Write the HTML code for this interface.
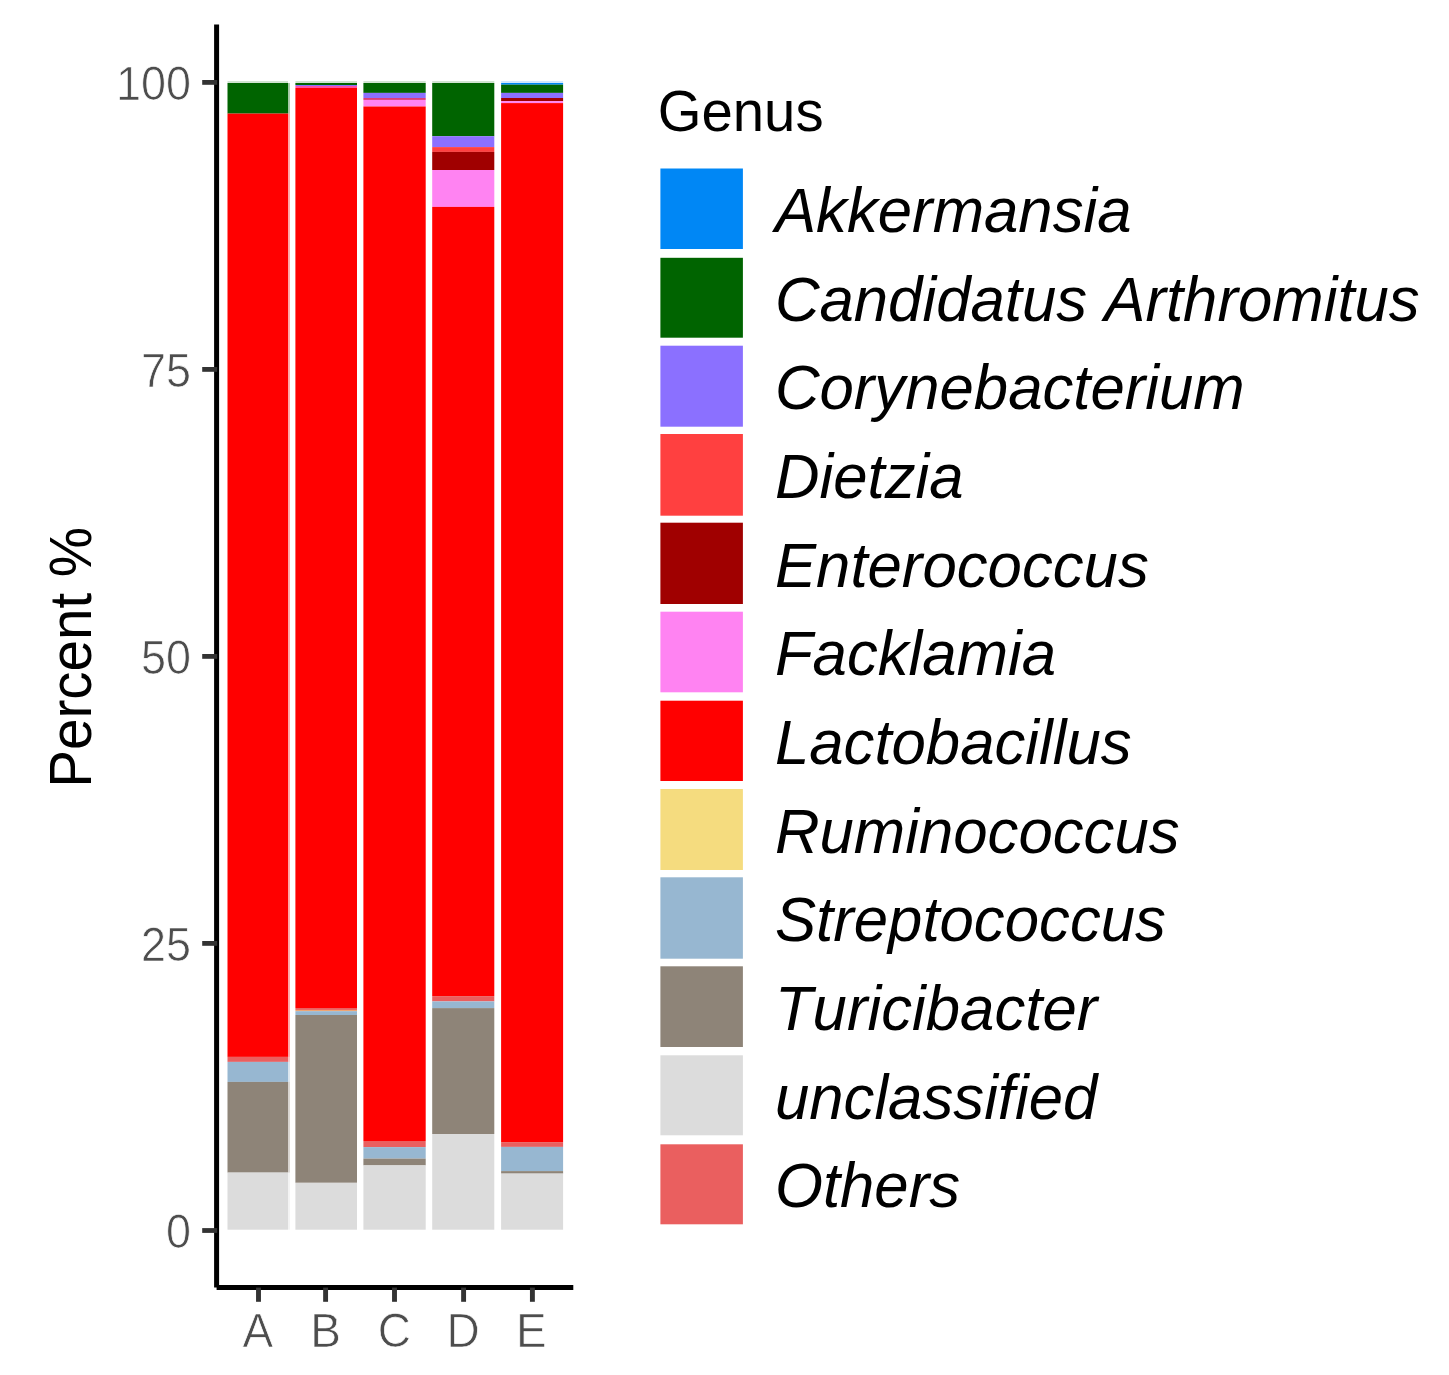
<!DOCTYPE html>
<html><head><meta charset="utf-8"><title>Genus composition</title>
<style>
html,body{margin:0;padding:0;background:#fff;}
body{width:1449px;height:1375px;overflow:hidden;}
svg{display:block;}
text{font-family:"Liberation Sans",Arial,sans-serif;font-kerning:none;font-variant-ligatures:none;}
.tick{fill:#4D4D4D;font-size:46px;stroke:#fff;stroke-width:0.7px;}
.ttl{fill:#000;font-size:57px;}
.lab{fill:#000;font-size:61.6px;font-style:italic;}
</style></head><body>
<svg width="1449" height="1375" viewBox="0 0 1449 1375">
<rect width="1449" height="1375" fill="#fff"/>

<g>
<rect x="227.50" y="81" width="60.50" height="2.2" fill="#006400" opacity="0.18"/>
<rect x="227.50" y="83.00" width="60.50" height="30.60" fill="#006400"/>
<rect x="288.00" y="83.00" width="1.9" height="30.60" fill="#006400" opacity="0.35"/>
<rect x="227.50" y="113.60" width="60.50" height="943.30" fill="#FF0000"/>
<rect x="288.00" y="113.60" width="1.9" height="943.30" fill="#FF0000" opacity="0.35"/>
<rect x="227.50" y="1056.90" width="60.50" height="5.00" fill="#EA5F5F"/>
<rect x="288.00" y="1056.90" width="1.9" height="5.00" fill="#EA5F5F" opacity="0.35"/>
<rect x="227.50" y="1061.90" width="60.50" height="20.00" fill="#97B7D1"/>
<rect x="288.00" y="1061.90" width="1.9" height="20.00" fill="#97B7D1" opacity="0.35"/>
<rect x="227.50" y="1081.90" width="60.50" height="90.70" fill="#8E8478"/>
<rect x="288.00" y="1081.90" width="1.9" height="90.70" fill="#8E8478" opacity="0.35"/>
<rect x="227.50" y="1172.60" width="60.50" height="57.10" fill="#DCDCDC"/>
<rect x="288.00" y="1172.60" width="1.9" height="57.10" fill="#DCDCDC" opacity="0.35"/>
</g>
<g>
<rect x="295.40" y="81" width="61.60" height="2.2" fill="#006400" opacity="0.18"/>
<rect x="295.40" y="83.00" width="61.60" height="2.00" fill="#006400"/>
<rect x="295.40" y="85.00" width="61.60" height="1.00" fill="#8B70FF"/>
<rect x="295.40" y="86.00" width="61.60" height="2.00" fill="#FF50A0"/>
<rect x="295.40" y="88.00" width="61.60" height="920.00" fill="#FF0000"/>
<rect x="295.40" y="1008.00" width="61.60" height="1.95" fill="#EA5F5F"/>
<rect x="295.40" y="1009.95" width="61.60" height="1.20" fill="#F0A573"/>
<rect x="295.40" y="1011.15" width="61.60" height="3.85" fill="#97B7D1"/>
<rect x="295.40" y="1015.00" width="61.60" height="167.80" fill="#8E8478"/>
<rect x="295.40" y="1182.80" width="61.60" height="46.90" fill="#DCDCDC"/>
</g>
<g>
<rect x="363.40" y="81" width="62.30" height="2.2" fill="#006400" opacity="0.18"/>
<rect x="363.40" y="83.00" width="62.30" height="9.90" fill="#006400"/>
<rect x="363.40" y="92.90" width="62.30" height="5.10" fill="#8B70FF"/>
<rect x="363.40" y="98.00" width="62.30" height="1.95" fill="#DC3F78"/>
<rect x="363.40" y="99.95" width="62.30" height="6.55" fill="#FF83F2"/>
<rect x="363.40" y="106.50" width="62.30" height="1034.50" fill="#FF0000"/>
<rect x="363.40" y="1141.00" width="62.30" height="6.10" fill="#EA5F5F"/>
<rect x="363.40" y="1147.10" width="62.30" height="11.50" fill="#97B7D1"/>
<rect x="363.40" y="1158.60" width="62.30" height="6.80" fill="#8E8478"/>
<rect x="363.40" y="1165.40" width="62.30" height="64.30" fill="#DCDCDC"/>
</g>
<g>
<rect x="432.20" y="81" width="62.10" height="2.2" fill="#006400" opacity="0.18"/>
<rect x="432.20" y="83.00" width="62.10" height="53.20" fill="#006400"/>
<rect x="432.20" y="136.20" width="62.10" height="10.90" fill="#8B70FF"/>
<rect x="432.20" y="147.10" width="62.10" height="4.80" fill="#FF4040"/>
<rect x="432.20" y="151.90" width="62.10" height="18.10" fill="#A00000"/>
<rect x="432.20" y="170.00" width="62.10" height="36.90" fill="#FF83F2"/>
<rect x="432.20" y="206.90" width="62.10" height="789.20" fill="#FF0000"/>
<rect x="432.20" y="996.10" width="62.10" height="5.30" fill="#EA5F5F"/>
<rect x="432.20" y="1001.40" width="62.10" height="6.70" fill="#97B7D1"/>
<rect x="432.20" y="1008.10" width="62.10" height="125.90" fill="#8E8478"/>
<rect x="432.20" y="1134.00" width="62.10" height="95.70" fill="#DCDCDC"/>
</g>
<g>
<rect x="501.10" y="81" width="62.00" height="2.2" fill="#0087F5" opacity="0.18"/>
<rect x="501.10" y="83.00" width="62.00" height="1.70" fill="#0087F5"/>
<rect x="501.10" y="84.70" width="62.00" height="8.20" fill="#006400"/>
<rect x="501.10" y="92.90" width="62.00" height="5.10" fill="#8B70FF"/>
<rect x="501.10" y="98.00" width="62.00" height="3.10" fill="#A00000"/>
<rect x="501.10" y="101.10" width="62.00" height="2.00" fill="#FF83F2"/>
<rect x="501.10" y="103.10" width="62.00" height="1039.00" fill="#FF0000"/>
<rect x="501.10" y="1142.10" width="62.00" height="4.80" fill="#EA5F5F"/>
<rect x="501.10" y="1146.90" width="62.00" height="24.20" fill="#97B7D1"/>
<rect x="501.10" y="1171.10" width="62.00" height="2.50" fill="#8E8478"/>
<rect x="501.10" y="1173.60" width="62.00" height="56.10" fill="#DCDCDC"/>
</g>
<path d="M216.6 24.6V1287.4M216.6 1287.4H573.3" fill="none" stroke="#000" stroke-width="5" stroke-linecap="butt"/>
<rect x="202.2" y="80.00" width="15" height="4.8" fill="#333"/>
<text class="tick" transform="translate(191.1 99.60) scale(0.978 1.03)" text-anchor="end">100</text>
<rect x="202.2" y="367.00" width="15" height="4.8" fill="#333"/>
<text class="tick" transform="translate(191.1 386.60) scale(0.978 1.03)" text-anchor="end">75</text>
<rect x="202.2" y="654.00" width="15" height="4.8" fill="#333"/>
<text class="tick" transform="translate(191.1 673.60) scale(0.978 1.03)" text-anchor="end">50</text>
<rect x="202.2" y="941.00" width="15" height="4.8" fill="#333"/>
<text class="tick" transform="translate(191.1 960.60) scale(0.978 1.03)" text-anchor="end">25</text>
<rect x="202.2" y="1228.10" width="15" height="4.8" fill="#333"/>
<text class="tick" transform="translate(191.1 1247.70) scale(0.978 1.03)" text-anchor="end">0</text>
<rect x="256.05" y="1287.6" width="4.9" height="14.2" fill="#333"/>
<text class="tick" transform="translate(257.90 1347.4) scale(1 1.045)" text-anchor="middle">A</text>
<rect x="323.15" y="1287.6" width="4.9" height="14.2" fill="#333"/>
<text class="tick" transform="translate(325.70 1347.4) scale(1 1.045)" text-anchor="middle">B</text>
<rect x="392.05" y="1287.6" width="4.9" height="14.2" fill="#333"/>
<text class="tick" transform="translate(394.40 1347.4) scale(1 1.045)" text-anchor="middle">C</text>
<rect x="461.15" y="1287.6" width="4.9" height="14.2" fill="#333"/>
<text class="tick" transform="translate(463.20 1347.4) scale(1 1.045)" text-anchor="middle">D</text>
<rect x="529.95" y="1287.6" width="4.9" height="14.2" fill="#333"/>
<text class="tick" transform="translate(531.40 1347.4) scale(1 1.045)" text-anchor="middle">E</text>
<text class="ttl" transform="translate(91.1 657.3) rotate(-90) scale(0.992 1.03)" text-anchor="middle">Percent %</text>
<text class="ttl" transform="translate(657.8 130.9) scale(0.987 1.015)">Genus</text>
<rect x="660.4" y="168.50" width="82.5" height="80.50" fill="#0087F5"/>
<text class="lab" transform="translate(774.9 232.10) scale(1.002 1.025)">Akkermansia</text>
<rect x="660.4" y="257.80" width="82.5" height="79.90" fill="#006400"/>
<text class="lab" transform="translate(774.9 320.76) scale(1.002 1.025)">Candidatus Arthromitus</text>
<rect x="660.4" y="345.70" width="82.5" height="81.00" fill="#8B70FF"/>
<text class="lab" transform="translate(774.9 409.42) scale(1.002 1.025)">Corynebacterium</text>
<rect x="660.4" y="434.00" width="82.5" height="81.70" fill="#FF4040"/>
<text class="lab" transform="translate(774.9 498.08) scale(1.002 1.025)">Dietzia</text>
<rect x="660.4" y="522.70" width="82.5" height="81.30" fill="#A00000"/>
<text class="lab" transform="translate(774.9 586.74) scale(1.002 1.025)">Enterococcus</text>
<rect x="660.4" y="611.70" width="82.5" height="80.60" fill="#FF83F2"/>
<text class="lab" transform="translate(774.9 675.40) scale(1.002 1.025)">Facklamia</text>
<rect x="660.4" y="700.70" width="82.5" height="80.30" fill="#FF0000"/>
<text class="lab" transform="translate(774.9 764.06) scale(1.002 1.025)">Lactobacillus</text>
<rect x="660.4" y="789.00" width="82.5" height="81.00" fill="#F5DC7F"/>
<text class="lab" transform="translate(774.9 852.72) scale(1.002 1.025)">Ruminococcus</text>
<rect x="660.4" y="877.30" width="82.5" height="81.40" fill="#97B7D1"/>
<text class="lab" transform="translate(774.9 941.38) scale(1.002 1.025)">Streptococcus</text>
<rect x="660.4" y="966.30" width="82.5" height="80.70" fill="#8E8478"/>
<text class="lab" transform="translate(774.9 1030.04) scale(1.002 1.025)">Turicibacter</text>
<rect x="660.4" y="1055.30" width="82.5" height="80.00" fill="#DCDCDC"/>
<text class="lab" transform="translate(774.9 1118.70) scale(1.002 1.025)">unclassified</text>
<rect x="660.4" y="1144.30" width="82.5" height="80.00" fill="#EA5F5F"/>
<text class="lab" transform="translate(774.9 1207.36) scale(1.002 1.025)">Others</text>
</svg></body></html>
